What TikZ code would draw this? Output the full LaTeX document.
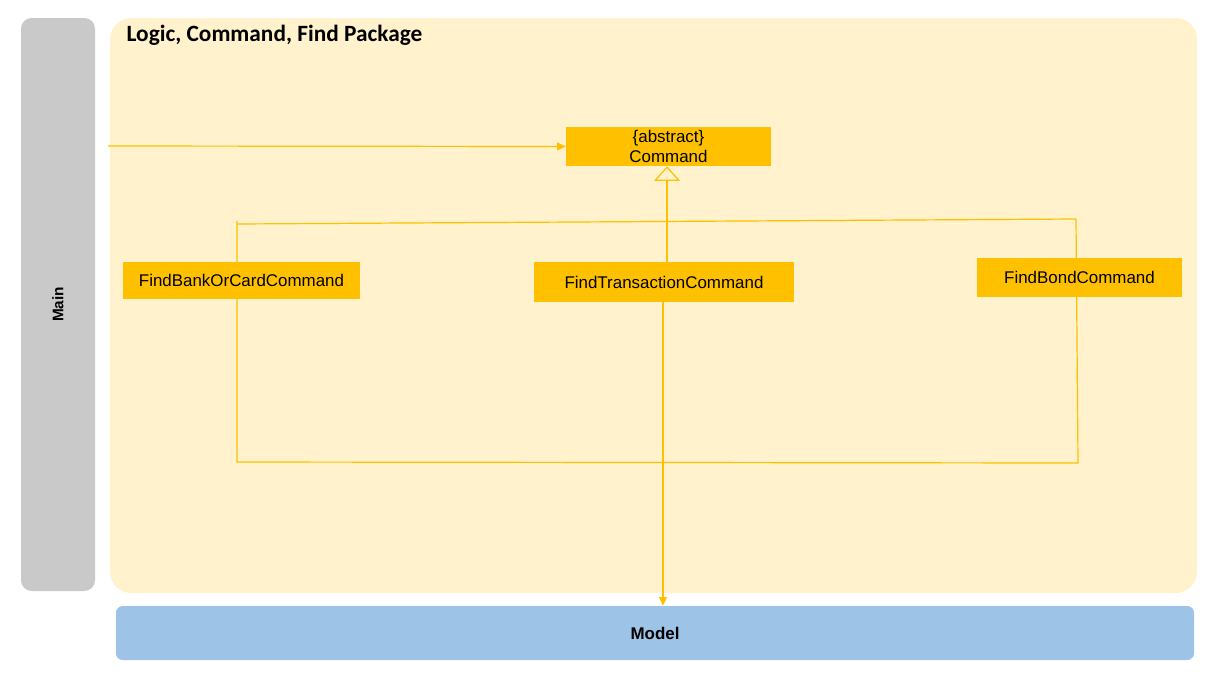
\documentclass[tikz,border=0pt]{standalone}
\usepackage{fontspec}
\setmainfont{Liberation Sans}
\newfontfamily\titlefont{Carlito}
\usetikzlibrary{arrows.meta}
\definecolor{pkgfill}{HTML}{FFF2CC}
\definecolor{mainfill}{HTML}{C9C9C9}
\definecolor{modelfill}{HTML}{9DC3E6}
\definecolor{classfill}{HTML}{FFC000}
\pgfdeclarelayer{back}
\pgfdeclarelayer{mid}
\pgfsetlayers{back,mid,main}
\begin{document}
\begin{tikzpicture}[x=0.75pt,y=-0.75pt,
  classbox/.style={fill=classfill, inner sep=0pt, align=center,
    font=\fontsize{12.7}{15}\selectfont},
  conn/.style={draw=classfill, line width=0.9pt},
  lanebox/.style={inner sep=0pt, font=\bfseries\fontsize{12}{14}\selectfont}]
\useasboundingbox (0,0) rectangle (1216,676);

\begin{pgfonlayer}{back}
\node[lanebox, fill=pkgfill, rounded corners=16pt, minimum width=815.25pt, minimum height=431.25pt] (pkg) at (653.5,305.5) {};
\node[lanebox, fill=mainfill, rounded corners=8pt, minimum width=55.5pt, minimum height=429.75pt] (mainlane) at (58,304.5) {};
\node[lanebox, fill=modelfill, rounded corners=5pt, minimum width=808.5pt, minimum height=40.5pt] (model) at (655,633) {};
\end{pgfonlayer}

\node[font=\fontsize{11.5}{14}\selectfont\bfseries, rotate=90] (maintxt) at (mainlane.center) {Main};
\node[font=\fontsize{12.7}{15}\selectfont\bfseries] (modeltxt) at (model.center) {Model};
\node[anchor=west, font=\titlefont\bfseries\fontsize{17.5}{20}\selectfont] (title) at (122,35) {Logic, Command, Find Package};

\node[classbox, minimum width=153.75pt, minimum height=29.25pt] (cmd) at (668.5,146.5) {\{abstract\}\\Command};
\node[classbox, minimum width=177.75pt, minimum height=27.75pt] (bank) at (241.5,280.5) {FindBankOrCardCommand};
\node[classbox, minimum width=195pt, minimum height=30pt] (trans) at (664,282) {FindTransactionCommand};
\node[classbox, minimum width=153.75pt, minimum height=29.25pt] (bond) at (1079.5,277.5) {FindBondCommand};

\coordinate (entry) at (108,146);
\coordinate (tl) at (237,221);
\coordinate (tlh) at (237,224);
\coordinate (tr) at (1076,219);
\coordinate (bl) at (237,462);
\coordinate (br) at (1078,463);

\begin{pgfonlayer}{mid}
\draw[conn] (tlh) -- (tr);
\draw[conn] (tl) -- (bl) -- (br) -- (tr);
\draw[conn, -{Triangle[open, width=19.5pt, length=11pt]}] (trans.north -| 667,0) -- (cmd.south -| 667,0);
\draw[conn, -{Triangle[width=6pt, length=6.5pt]}] (entry) -- (cmd.west);
\draw[conn, -{Triangle[width=6pt, length=6.5pt]}] (trans.south -| 663,0) -- (model.north -| 663,0);
\end{pgfonlayer}
\end{tikzpicture}
\end{document}
